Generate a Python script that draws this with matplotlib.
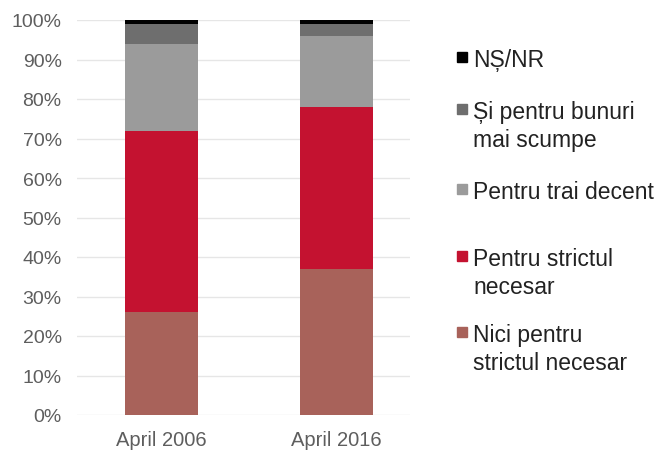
import numpy as np
import matplotlib.pyplot as plt
from matplotlib.patches import Rectangle

# Date
categorii = ['April 2006', 'April 2016']
nici_strict = [26, 37]
strict_necesar = [46, 41]
trai_decent = [22, 18]
bunuri_scumpe = [5, 3]
ns_nr = [1, 1]

serii = [nici_strict, strict_necesar, trai_decent, bunuri_scumpe, ns_nr]
etichete = ['Nici pentru\nstrictul necesar', 'Pentru strictul\nnecesar',
            'Pentru trai decent', 'Și pentru bunuri\nmai scumpe', 'NȘ/NR']
culori = ['#A8625A', '#C41230', '#9B9B9B', '#6E6E6E', '#000000']

plt.rcParams['font.family'] = ['Liberation Sans', 'DejaVu Sans']

fig = plt.figure(figsize=(6.6, 4.52), dpi=100)
ax = fig.add_axes([77 / 660, 36 / 452, 333 / 660, 395 / 452])

x = np.arange(len(categorii))
jos = np.zeros(len(categorii))
for vals, c in zip(serii, culori):
    ax.bar(x, vals, width=0.417, bottom=jos, color=c, zorder=3)
    jos += np.array(vals)

ax.set_ylim(0, 100)
ax.set_xlim(-0.483, 1.42)
ax.set_yticks(range(0, 101, 10))
ax.set_yticklabels([f'{v}%' for v in range(0, 101, 10)])
ax.set_xticks(x)
ax.set_xticklabels(categorii)
ax.tick_params(axis='y', length=0, pad=11, labelsize=14, labelcolor='#5e5e5e')
ax.tick_params(axis='x', length=0, pad=11, labelsize=14.5, labelcolor='#5e5e5e')
ax.grid(axis='y', color='#e6e6e6', linewidth=1, zorder=0)
for s in ax.spines.values():
    s.set_visible(False)

# Legenda (de sus in jos, invers fata de stivuire)
pozitii_y = [58, 110, 190, 257, 333]
for (lab, c), yp in zip(zip(etichete[::-1], culori[::-1]), pozitii_y):
    fig.patches.append(Rectangle((457 / 660, 1 - (yp + 5) / 452), 10 / 660, 10 / 452,
                                 transform=fig.transFigure, color=c))
    fig.text(473 / 660, 1 - (yp - 9) / 452, lab, fontsize=16.5, color='#222222',
             va='top', ha='left', linespacing=1.3)

fig.savefig('out.png', dpi=100)
